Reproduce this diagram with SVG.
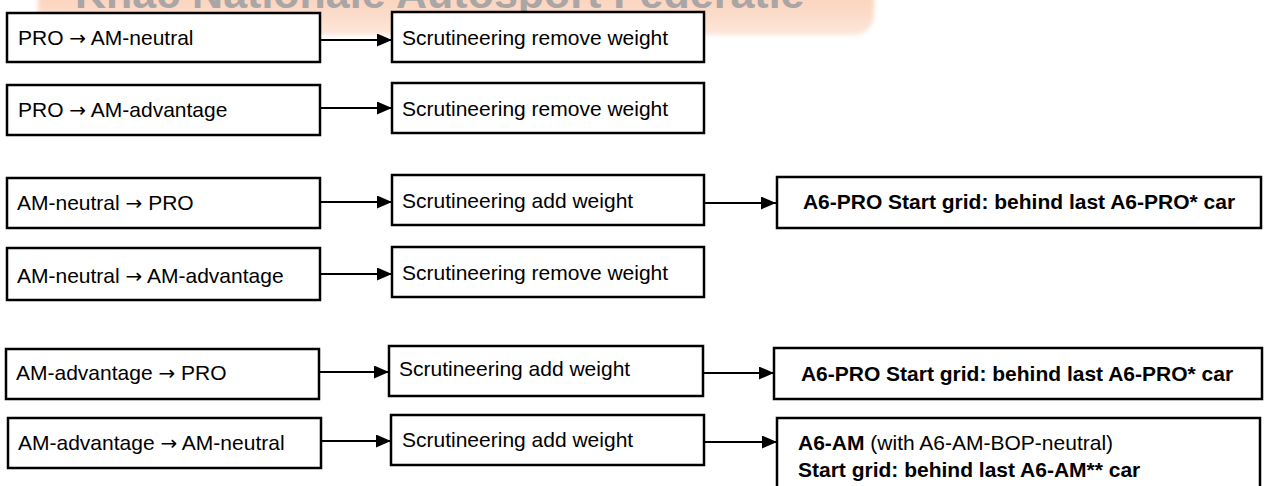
<svg xmlns="http://www.w3.org/2000/svg" width="1264" height="486" viewBox="0 0 1264 486">
<style>
.box{fill:#fff;stroke:#000;stroke-width:2.5}
.t{font-family:"Liberation Sans",Arial,sans-serif;font-size:21px;fill:#000}
.b{font-weight:bold}
.ar{font-family:"DejaVu Sans",sans-serif;font-size:20px}
.c{stroke:#000;stroke-width:2.2;fill:none}
.wm{font-family:"Liberation Sans",Arial,sans-serif;font-size:43px;font-weight:bold;fill:#a9a6a5}
</style>
<defs>
<marker id="ah" viewBox="0 0 15 13" refX="15" refY="6.5" markerWidth="15" markerHeight="13" markerUnits="userSpaceOnUse" orient="auto">
<path d="M0,0 L15,6.5 L0,13 Z" fill="#000"/>
</marker>
<linearGradient id="wg" x1="0" y1="0" x2="0" y2="1">
<stop offset="0" stop-color="#f8c0a1"/>
<stop offset="1" stop-color="#fde7da"/>
</linearGradient>
<filter id="soft" x="-5%" y="-50%" width="110%" height="200%"><feGaussianBlur stdDeviation="2"/></filter>
</defs>
<rect width="1264" height="486" fill="#fff"/>
<g id="watermark">
<rect x="38" y="-40" width="836" height="75" rx="20" fill="url(#wg)" filter="url(#soft)"/>
<text class="wm" x="75" y="8">Knac Nationale Autosport Federatie</text>
</g>
<g id="connectors">
<line class="c" x1="320" y1="40" x2="392" y2="40" marker-end="url(#ah)"/>
<line class="c" x1="320" y1="108" x2="392" y2="108" marker-end="url(#ah)"/>
<line class="c" x1="320" y1="202" x2="392" y2="202" marker-end="url(#ah)"/>
<line class="c" x1="704" y1="203" x2="776" y2="203" marker-end="url(#ah)"/>
<line class="c" x1="320" y1="274" x2="392" y2="274" marker-end="url(#ah)"/>
<line class="c" x1="319" y1="372" x2="389" y2="372" marker-end="url(#ah)"/>
<line class="c" x1="703" y1="373" x2="774" y2="373" marker-end="url(#ah)"/>
<line class="c" x1="321" y1="441" x2="391" y2="441" marker-end="url(#ah)"/>
<line class="c" x1="704" y1="442" x2="777" y2="442" marker-end="url(#ah)"/>
</g>
<g id="n1"><rect class="box" x="7" y="13" width="313" height="49"/><text class="t" x="18" y="45">PRO <tspan class="ar">→</tspan> AM-neutral</text></g>
<g id="n2"><rect class="box" x="392" y="12" width="312" height="50"/><text class="t" x="402" y="45">Scrutineering remove weight</text></g>
<g id="n3"><rect class="box" x="7" y="85" width="313" height="50"/><text class="t" x="18" y="117">PRO <tspan class="ar">→</tspan> AM-advantage</text></g>
<g id="n4"><rect class="box" x="392" y="83" width="312" height="50"/><text class="t" x="402" y="116">Scrutineering remove weight</text></g>
<g id="n5"><rect class="box" x="7" y="178" width="313" height="50"/><text class="t" x="17" y="210">AM-neutral <tspan class="ar">→</tspan> PRO</text></g>
<g id="n6"><rect class="box" x="392" y="175" width="312" height="50"/><text class="t" x="402" y="208">Scrutineering add weight</text></g>
<g id="n7"><rect class="box" x="777" y="177" width="484" height="51"/><text class="t b" x="1019" y="209" text-anchor="middle">A6-PRO Start grid: behind last A6-PRO* car</text></g>
<g id="n8"><rect class="box" x="7" y="248" width="313" height="52"/><text class="t" x="17" y="283">AM-neutral <tspan class="ar">→</tspan> AM-advantage</text></g>
<g id="n9"><rect class="box" x="392" y="247" width="312" height="50"/><text class="t" x="402" y="280">Scrutineering remove weight</text></g>
<g id="n10"><rect class="box" x="6" y="349" width="313" height="50"/><text class="t" x="16" y="380">AM-advantage <tspan class="ar">→</tspan> PRO</text></g>
<g id="n11"><rect class="box" x="389" y="346" width="314" height="50"/><text class="t" x="399" y="376">Scrutineering add weight</text></g>
<g id="n12"><rect class="box" x="774" y="348" width="488" height="51"/><text class="t b" x="1017" y="381" text-anchor="middle">A6-PRO Start grid: behind last A6-PRO* car</text></g>
<g id="n13"><rect class="box" x="8" y="418" width="313" height="50"/><text class="t" x="18" y="450">AM-advantage <tspan class="ar">→</tspan> AM-neutral</text></g>
<g id="n14"><rect class="box" x="391" y="415" width="313" height="50"/><text class="t" x="402" y="447">Scrutineering add weight</text></g>
<g id="n15"><rect class="box" x="777" y="418" width="483" height="80"/>
<text class="t" x="798" y="450"><tspan class="b">A6-AM</tspan> (with A6-AM-BOP-neutral)</text>
<text class="t b" x="798" y="477">Start grid: behind last A6-AM** car</text></g>
</svg>
